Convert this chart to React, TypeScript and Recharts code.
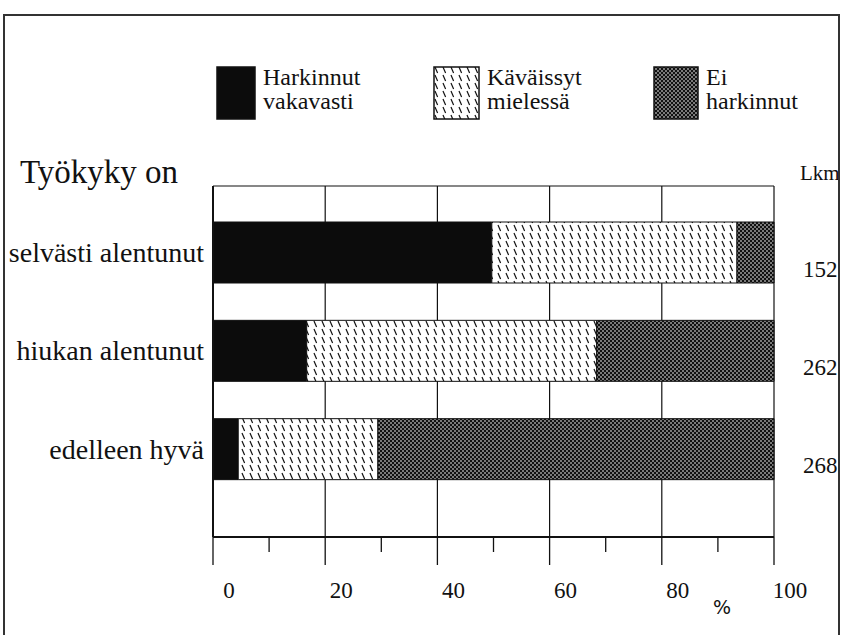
import React from 'react';
import { BarChart, Bar, XAxis, YAxis, CartesianGrid, Legend, LabelList } from 'recharts';

const categories = ['selvästi alentunut', 'hiukan alentunut', 'edelleen hyvä'];
const harkinnutVakavasti = [49.7, 16.7, 4.5];
const kavaissytMielessa = [43.7, 51.7, 24.9];
const eiHarkinnut = [6.6, 31.6, 70.6];
const lkm = [152, 262, 268];
const seriesKeys = ['a', 'b', 'c'];
const seriesNames = ['Harkinnut vakavasti', 'Käväissyt mielessä', 'Ei harkinnut'];
const xDomain = [0, 100];
const xTicks = [0, 10, 20, 30, 40, 50, 60, 70, 80, 90, 100];
const majorTicks = [0, 20, 40, 60, 80, 100];
const gridValues = [20, 40, 60, 80, 100];

const data = categories.map((name, i) => ({
  name,
  a: harkinnutVakavasti[i],
  b: kavaissytMielessa[i],
  c: eiHarkinnut[i],
  lkm: lkm[i],
}));

const FONT = '"Liberation Serif", "Times New Roman", serif';

const XTick = (props: any) => {
  const { x, y, payload } = props;
  const major = majorTicks.includes(payload.value);
  return (
    <g>
      <line x1={x} x2={x} y1={y} y2={y + (major ? 28 : 15)} stroke="#111" strokeWidth={1.3} />
      {major && (
        <text x={x + 16} y={y + 61} textAnchor="middle" fontFamily={FONT} fontSize={23} fill="#111">
          {payload.value}
        </text>
      )}
    </g>
  );
};

const LegendContent = (props: any) => {
  const { payload } = props;
  const lefts = [216, 433, 653];
  const widths = [40, 47, 46];
  return (
    <div style={{ position: 'relative', height: 0, width: 843 }}>
      {(payload || []).map((entry: any) => {
        const i = seriesKeys.indexOf(entry.dataKey);
        const name: string = entry.value;
        const sp = name.indexOf(' ');
        const l1 = name.slice(0, sp);
        const l2 = name.slice(sp + 1);
        return (
          <div key={name} style={{ position: 'absolute', left: lefts[i], top: 66, display: 'flex' }}>
            <svg width={widths[i]} height={54} style={{ display: 'block' }}>
              <rect x={1} y={1} width={widths[i] - 2} height={52} fill={entry.color} stroke="#111" strokeWidth={1.5} />
            </svg>
            <div style={{ marginLeft: 7, fontFamily: FONT, fontSize: 24, lineHeight: '24px', color: '#111', marginTop: -1 }}>
              <div>{l1}</div>
              <div>{l2}</div>
            </div>
          </div>
        );
      })}
    </div>
  );
};

const LkmLabel = (props: any) => {
  const { x, y, width, height, value } = props;
  return (
    <text x={x + width + 29} y={y + height / 2 + 16} dy="0.35em" fontFamily={FONT} fontSize={23} fill="#111">
      {value}
    </text>
  );
};

export default function App() {
  return (
    <div style={{ position: 'fixed', left: 0, top: 0, width: 843, height: 635, background: '#fff' }}>
      <BarChart
        width={843}
        height={635}
        data={data}
        layout="vertical"
        margin={{ top: 186, right: 69, bottom: 0, left: 0 }}
        barCategoryGap={0}
      >
        <defs>
          <pattern id="dashPat" patternUnits="userSpaceOnUse" width={8} height={8}>
            <rect width={8} height={8} fill="#fff" />
            <line x1={2} y1={1} x2={4.6} y2={7} stroke="#111" strokeWidth={1.2} />
          </pattern>
          <pattern id="dotPat" patternUnits="userSpaceOnUse" width={4} height={4}>
            <rect width={4} height={4} fill="#111" />
            <circle cx={1} cy={1} r={0.8} fill="#fff" />
            <circle cx={3} cy={3} r={0.8} fill="#fff" />
          </pattern>
        </defs>
        <CartesianGrid
          stroke="#111"
          strokeWidth={1.2}
          horizontalCoordinatesGenerator={(p: any) => [p.offset.top]}
          verticalCoordinatesGenerator={(p: any) =>
            gridValues.map((v) => p.offset.left + ((v - xDomain[0]) / (xDomain[1] - xDomain[0])) * p.offset.width)
          }
        />
        <XAxis
          type="number"
          domain={xDomain}
          ticks={xTicks}
          interval={0}
          height={98}
          tickSize={0}
          tickMargin={0}
          tickLine={false}
          axisLine={{ stroke: '#111', strokeWidth: 2 }}
          tick={<XTick />}
        />
        <YAxis
          type="category"
          dataKey="name"
          width={213}
          padding={{ top: 17, bottom: 39 }}
          tickSize={0}
          tickMargin={9}
          tickLine={false}
          axisLine={{ stroke: '#111', strokeWidth: 2 }}
          tick={{ fontFamily: FONT, fontSize: 28, fill: '#111' }}
        />
        <Legend
          verticalAlign="top"
          content={<LegendContent />}
          wrapperStyle={{ top: 0, left: 0, width: 843, height: 0 }}
        />
        <Bar dataKey="a" name={seriesNames[0]} stackId="s" fill="#0c0c0c" stroke="#111" strokeWidth={1} barSize={61} isAnimationActive={false} />
        <Bar dataKey="b" name={seriesNames[1]} stackId="s" fill="url(#dashPat)" stroke="#111" strokeWidth={1} barSize={61} isAnimationActive={false} />
        <Bar dataKey="c" name={seriesNames[2]} stackId="s" fill="url(#dotPat)" stroke="#111" strokeWidth={1} barSize={61} isAnimationActive={false}>
          <LabelList dataKey="lkm" content={<LkmLabel />} />
        </Bar>
        <text x={20} y={183} fontFamily={FONT} fontSize={33} fill="#111">Työkyky on</text>
        <text x={800} y={180} fontFamily={FONT} fontSize={21} fill="#111">Lkm</text>
        <text x={722} y={614} textAnchor="middle" fontFamily='"DejaVu Sans", sans-serif' fontSize={19} fill="#111">%</text>
        <path d="M4,640 L4,15 L839,15 L839,640" fill="none" stroke="#333" strokeWidth={2} />
      </BarChart>
    </div>
  );
}
